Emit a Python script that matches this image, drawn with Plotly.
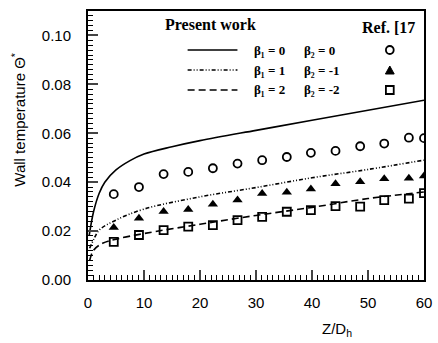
import plotly.graph_objects as go

# ---- data ----
z_line0 = [0.2, 1, 2, 3, 5, 7.5, 10, 15, 20, 30, 40, 50, 60]
t_line0 = [0.018, 0.028, 0.0355, 0.040, 0.045, 0.0488, 0.0515, 0.0545, 0.057, 0.0612, 0.0653, 0.0694, 0.0735]

z_line1 = [0.3, 1, 2, 5, 10, 20, 30, 40, 50, 60]
t_line1 = [0.013, 0.0165, 0.0204, 0.0245, 0.029, 0.034, 0.0378, 0.0418, 0.0452, 0.049]

z_line2 = [0.3, 1, 2.6, 5, 10, 20, 30, 40, 50, 60]
t_line2 = [0.008, 0.0122, 0.015, 0.0167, 0.019, 0.0228, 0.0264, 0.0297, 0.0333, 0.036]

z_ref = [4.6, 9.1, 13.5, 17.9, 22.3, 26.7, 31.1, 35.5, 39.8, 44.2, 48.6, 52.9, 57.3, 60]
t_ref0 = [0.0351, 0.038, 0.0433, 0.0442, 0.0457, 0.0476, 0.049, 0.0503, 0.052, 0.0528, 0.0547, 0.0558, 0.0582, 0.058]
t_ref1 = [0.0215, 0.0252, 0.028, 0.0288, 0.031, 0.0327, 0.0354, 0.0359, 0.0372, 0.0394, 0.0402, 0.0414, 0.0416, 0.0425]
t_ref2 = [0.0156, 0.0184, 0.0204, 0.0218, 0.0224, 0.0245, 0.0258, 0.0279, 0.0286, 0.0302, 0.030, 0.0327, 0.0333, 0.0355]

x_ticks = [0, 10, 20, 30, 40, 50, 60]
y_ticks = [0.00, 0.02, 0.04, 0.06, 0.08, 0.10]
y_tick_text = ["0.00", "0.02", "0.04", "0.06", "0.08", "0.10"]

legend_b1 = ["β₁ = 0", "β₁ = 1", "β₁ = 2"]
legend_b2 = ["β₂ = 0", "β₂ = -1", "β₂ = -2"]

# ---- figure ----
W, H = 438, 343
L, R, T, B = 88, 6, 11, 63
pw, ph = W - L - R, H - T - B

def px(x):
    return (x - L) / pw

def py(y):
    return (H - B - y) / ph

dash1 = "4px,2px,1px,2px,1px,2px"
dash2 = "7px,4px"
LW = 1.6

fig = go.Figure()
fig.add_trace(go.Scatter(x=z_line0, y=t_line0, mode="lines", line=dict(color="black", width=LW, shape="spline", smoothing=1.0)))
fig.add_trace(go.Scatter(x=z_line1, y=t_line1, mode="lines", line=dict(color="black", width=LW, dash=dash1, shape="spline", smoothing=1.0)))
fig.add_trace(go.Scatter(x=z_line2, y=t_line2, mode="lines", line=dict(color="black", width=LW, dash=dash2, shape="spline", smoothing=1.0)))
fig.add_trace(go.Scatter(x=z_ref, y=t_ref0, mode="markers",
                         marker=dict(symbol="circle-open", size=8, color="black", line=dict(width=1.8))))
fig.add_trace(go.Scatter(x=z_ref, y=t_ref1, mode="markers",
                         marker=dict(symbol="triangle-up", size=9, color="black")))
fig.add_trace(go.Scatter(x=z_ref, y=t_ref2, mode="markers",
                         marker=dict(symbol="square-open", size=8, color="black", line=dict(width=1.8))))

shapes = []
annotations = []
rows_y = [50, 70, 90]
dashes = ["solid", dash1, dash2]
for i, yy in enumerate(rows_y):
    shapes.append(dict(type="line", xref="paper", yref="paper",
                       x0=px(190), x1=px(241), y0=py(yy), y1=py(yy),
                       line=dict(color="black", width=LW, dash=dashes[i])))
    annotations.append(dict(xref="paper", yref="paper", x=px(256), y=py(yy), text="<b>" + legend_b1[i] + "</b>",
                            showarrow=False, xanchor="left", yanchor="middle",
                            font=dict(family="Liberation Serif", size=13, color="black")))
    annotations.append(dict(xref="paper", yref="paper", x=px(307), y=py(yy), text="<b>" + legend_b2[i] + "</b>",
                            showarrow=False, xanchor="left", yanchor="middle",
                            font=dict(family="Liberation Serif", size=13, color="black")))

# legend symbol samples
mx = 397
shapes.append(dict(type="circle", xref="paper", yref="paper", x0=px(mx - 4), x1=px(mx + 4),
                   y0=py(50 + 4), y1=py(50 - 4), line=dict(color="black", width=1.8)))
shapes.append(dict(type="path", xref="paper", yref="paper",
                   path=f"M {px(mx-4.5)},{py(74)} L {px(mx+4.5)},{py(74)} L {px(mx)},{py(66)} Z",
                   fillcolor="black", line=dict(color="black", width=1)))
shapes.append(dict(type="rect", xref="paper", yref="paper", x0=px(mx - 4), x1=px(mx + 4),
                   y0=py(90 + 4), y1=py(90 - 4), line=dict(color="black", width=1.8)))

annotations.append(dict(xref="paper", yref="paper", x=px(213), y=py(25), text="<b>Present work</b>",
                        showarrow=False, xanchor="center", yanchor="middle",
                        font=dict(family="Liberation Serif", size=16, color="black")))
annotations.append(dict(xref="paper", yref="paper", x=px(366), y=py(28), text="<b>Ref. [17</b>",
                        showarrow=False, xanchor="left", yanchor="middle",
                        font=dict(family="Liberation Serif", size=16, color="black")))
# axis titles
annotations.append(dict(xref="paper", yref="paper", x=px(343), y=py(329), text="Z/D<sub>h</sub>",
                        showarrow=False, xanchor="center", yanchor="middle",
                        font=dict(family="Liberation Sans", size=15, color="black")))
annotations.append(dict(xref="paper", yref="paper", x=px(17), y=py(120), text="Wall temperature Θ<sup>*</sup>",
                        showarrow=False, xanchor="center", yanchor="middle", textangle=-90,
                        font=dict(family="Liberation Sans", size=15, color="black")))

fig.update_layout(
    width=W, height=H,
    margin=dict(l=L, r=R, t=T, b=B),
    paper_bgcolor="white", plot_bgcolor="white",
    showlegend=False,
    shapes=shapes, annotations=annotations,
    font=dict(family="Liberation Sans", size=15, color="black"),
)
fig.update_xaxes(range=[0, 60], tickvals=x_ticks, ticks="inside", ticklen=10, tickwidth=1.5,
                 showgrid=False, zeroline=False, showline=True, linewidth=2, linecolor="black",
                 mirror=True, tickfont=dict(size=15), ticklabelstandoff=8, ticklabeloverflow="allow",
                 minor=dict(ticks="inside", dtick=1, ticklen=5, tickwidth=1, tickcolor="black"))
fig.update_yaxes(range=[0, 0.110], tickvals=y_ticks, ticktext=y_tick_text, ticks="inside", ticklen=10,
                 tickwidth=1.5, showgrid=False, zeroline=False, showline=True, linewidth=2,
                 linecolor="black", mirror=True, tickfont=dict(size=15), ticklabelstandoff=12,
                 ticklabeloverflow="allow",
                 minor=dict(ticks="inside", dtick=0.002, ticklen=5, tickwidth=1, tickcolor="black"))

fig.write_html("out.html")
